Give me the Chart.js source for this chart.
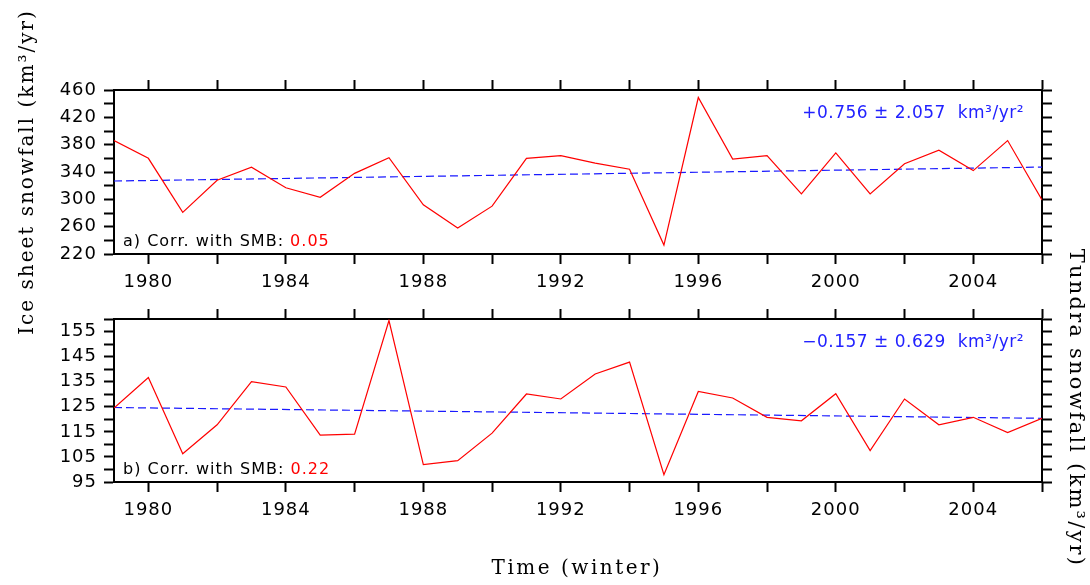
<!DOCTYPE html>
<html>
<head>
<meta charset="utf-8">
<script src="https://cdn.jsdelivr.net/npm/chart.js@4.4.1/dist/chart.umd.min.js"></script>
<style>
  html, body { margin: 0; padding: 0; background: #fff; }
  #wrap { position: relative; width: 1090px; height: 585px; }
  #wrap canvas { position: absolute; left: 0; top: 0; }
</style>
</head>
<body>
<div id="wrap">
  <canvas id="tundraChart" width="1090" height="585"></canvas>
  <canvas id="iceChart" width="1090" height="585"></canvas>
</div>
<script>
// data

const years = [1979, 1980, 1981, 1982, 1983, 1984, 1985, 1986, 1987, 1988, 1989, 1990, 1991, 1992,
  1993, 1994, 1995, 1996, 1997, 1998, 1999, 2000, 2001, 2002, 2003, 2004, 2005, 2006]

const iceSnowfall = [386, 360, 281, 328, 347, 317, 303, 338, 361, 292, 258, 290, 360, 364,
  353, 344, 233, 449, 359, 364, 308, 368, 308, 352, 372, 342, 386, 299]

const tundraSnowfall = [124.5, 136.7, 106.3, 117.8, 135.0, 132.9, 113.7, 114.1, 159.4, 101.9, 103.5, 114.5, 130.1, 128.1,
  138.1, 142.8, 97.9, 131.1, 128.5, 120.8, 119.4, 130.2, 107.5, 128.1, 117.8, 120.8, 114.7, 120.4]

// linear trend end points (first and last winter)
const trendYears = [1979, 2006]
const iceTrend = [326.8, 347.2]
const tundraTrend = [124.7, 120.4]

// ticks
const yearTicks = [1980, 1982, 1984, 1986, 1988, 1990, 1992, 1994, 1996, 1998, 2000, 2002, 2004, 2006]
const yearLabels = [1980, 1984, 1988, 1992, 1996, 2000, 2004]
const iceTicks = [220, 240, 260, 280, 300, 320, 340, 360, 380, 400, 420, 440, 460]
const iceLabels = [220, 260, 300, 340, 380, 420, 460]
const tundraTicks = [95, 100, 105, 110, 115, 120, 125, 130, 135, 140, 145, 150, 155, 160]
const tundraLabels = [95, 105, 115, 125, 135, 145, 155]

Chart.defaults.color = '#000'

const tickFont = () => ({ family: '"DejaVu Sans", sans-serif', size: 18 })

const toPoints = (xs, ys) => xs.map((x, i) => ({ x, y: ys[i] }))

const tickGrid = {
  drawOnChartArea: false,
  drawTicks: true,
  tickLength: 10,
  tickWidth: 2,
  tickColor: '#000',
}
const frame = { display: true, color: '#000', width: 2 }

// text drawn on top of each panel
const panelText = {
  id: 'panelText',
  beforeDraw(chart) {
    chart.ctx.letterSpacing = '1px'
  },
  afterDraw(chart, args, opts) {
    const { ctx, chartArea } = chart
    ctx.save()
    ctx.font = '16px "DejaVu Sans"'
    ctx.letterSpacing = '1px'
    ctx.textBaseline = 'alphabetic'
    ctx.textAlign = 'left'
    ctx.fillStyle = '#000'
    const lx = chartArea.left + 9
    const ly = chartArea.bottom - 8
    ctx.fillText(opts.label, lx, ly)
    ctx.fillStyle = '#ff0000'
    ctx.fillText(opts.corr, lx + ctx.measureText(opts.label).width, ly)

    ctx.font = '17px "DejaVu Sans"'
    ctx.letterSpacing = '0.5px'
    ctx.textAlign = 'right'
    ctx.fillStyle = '#2222ff'
    ctx.fillText(opts.trend, chartArea.right - 18, chartArea.top + 28)

    ctx.fillStyle = '#000'
    ctx.textAlign = 'center'
    ;(opts.titles || []).forEach((t) => {
      ctx.save()
      ctx.font = t.size + 'px "DejaVu Serif"'
      ctx.letterSpacing = t.spacing + 'px'
      ctx.translate(t.x, t.y)
      ctx.rotate(t.angle)
      ctx.fillText(t.text, 0, 0)
      ctx.restore()
    })
    ctx.restore()
  },
}

const makePanel = (id, values, trend, yTicks, yLabels, box, text) => {
  const ctx = document.getElementById(id).getContext('2d')
  const xAxis = (position, height, showLabels) => ({
    type: 'linear',
    axis: 'x',
    position,
    min: 1979,
    max: 2006,
    afterBuildTicks: (axis) => { axis.ticks = yearTicks.map((v) => ({ value: v })) },
    afterFit: (axis) => { axis.height = height },
    grid: tickGrid,
    border: frame,
    ticks: {
      display: showLabels,
      autoSkip: false,
      maxRotation: 0,
      padding: 8,
      font: tickFont,
      callback: (v) => (yearLabels.includes(v) ? String(v) : ''),
    },
  })
  const yAxis = (position, width, showLabels) => ({
    type: 'linear',
    axis: 'y',
    position,
    min: yTicks[0],
    max: yTicks[yTicks.length - 1],
    afterBuildTicks: (axis) => { axis.ticks = yTicks.map((v) => ({ value: v })) },
    afterFit: (axis) => { axis.width = width },
    grid: tickGrid,
    border: frame,
    ticks: {
      display: showLabels,
      autoSkip: false,
      padding: 7,
      font: tickFont,
      callback: (v) => (yLabels.includes(v) ? String(v) : ''),
    },
  })

  return new Chart(ctx, {
    type: 'line',
    data: {
      datasets: [
        {
          data: toPoints(years, values),
          borderColor: '#ff0000',
          borderWidth: 1.2,
          pointRadius: 0,
          tension: 0,
          xAxisID: 'x',
          yAxisID: 'y',
        },
        {
          data: toPoints(trendYears, trend),
          borderColor: '#1a1aff',
          borderWidth: 1.2,
          borderDash: [8, 4],
          pointRadius: 0,
          xAxisID: 'x',
          yAxisID: 'y',
        },
      ],
    },
    options: {
      responsive: false,
      animation: false,
      events: [],
      layout: { padding: 0, autoPadding: false },
      plugins: {
        legend: { display: false },
        tooltip: { enabled: false },
        panelText: text,
      },
      scales: {
        x: xAxis('bottom', 585 - box.bottom, true),
        xTop: xAxis('top', box.top, false),
        y: yAxis('left', box.left, true),
        yRight: yAxis('right', 1090 - box.right, false),
      },
    },
    plugins: [panelText],
  })
}

makePanel('iceChart', iceSnowfall, iceTrend, iceTicks, iceLabels,
  { left: 114, right: 1042, top: 90, bottom: 254 },
  {
    label: 'a) Corr. with SMB: ',
    corr: '0.05',
    trend: '+0.756 ± 2.057  km³/yr²',
    titles: [{ text: 'Ice sheet snowfall (km³/yr)', x: 33, y: 172, angle: -Math.PI / 2, size: 20, spacing: 2 }],
  })

makePanel('tundraChart', tundraSnowfall, tundraTrend, tundraTicks, tundraLabels,
  { left: 114, right: 1042, top: 319, bottom: 482 },
  {
    label: 'b) Corr. with SMB: ',
    corr: '0.22',
    trend: '−0.157 ± 0.629  km³/yr²',
    titles: [
      { text: 'Tundra snowfall (km³/yr)', x: 1070, y: 408, angle: Math.PI / 2, size: 21, spacing: 2.2 },
      { text: 'Time (winter)', x: 577, y: 574, angle: 0, size: 20, spacing: 2.5 },
    ],
  })
</script>
</body>
</html>
